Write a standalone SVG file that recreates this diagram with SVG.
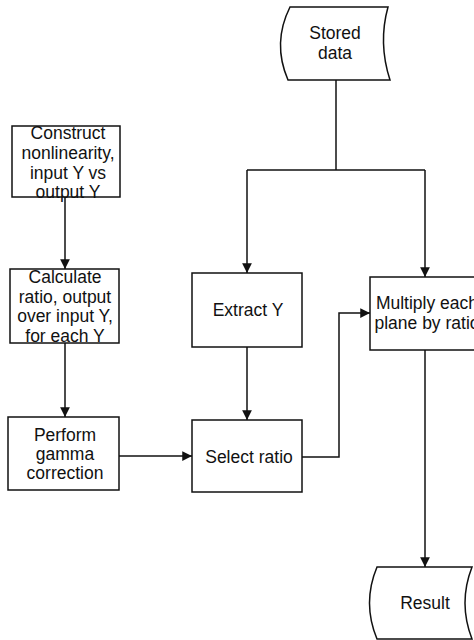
<svg xmlns="http://www.w3.org/2000/svg" width="474" height="640" viewBox="0 0 474 640">
<style>
.box{fill:#fff;stroke:#111;stroke-width:1.5}
.ln{fill:none;stroke:#111;stroke-width:1.5}
text{font-family:"Liberation Sans",Arial,sans-serif;font-size:17.5px;fill:#111;text-anchor:middle;dominant-baseline:central}
</style>
<defs>
<marker id="ah" viewBox="0 0 10 10" refX="10" refY="5" markerWidth="6.5" markerHeight="6.5" orient="auto" markerUnits="strokeWidth">
<path d="M0,0 L10,5 L0,10 Z" fill="#111"/>
</marker>
</defs>
<rect width="474" height="640" fill="#fff"/>
<g id="connectors">
<path class="ln" d="M65,197 L65,269" marker-end="url(#ah)"/>
<path class="ln" d="M65,343 L65,417" marker-end="url(#ah)"/>
<path class="ln" d="M119,456 L192,456" marker-end="url(#ah)"/>
<path class="ln" d="M336,80 L336,170"/>
<path class="ln" d="M247,170 L425,170"/>
<path class="ln" d="M247,170 L247,273" marker-end="url(#ah)"/>
<path class="ln" d="M425,170 L425,277" marker-end="url(#ah)"/>
<path class="ln" d="M247,347 L247,420" marker-end="url(#ah)"/>
<path class="ln" d="M302,457 L339,457 L339,313 L370,313" marker-end="url(#ah)"/>
<path class="ln" d="M425,350 L425,567" marker-end="url(#ah)"/>
</g>
<g id="stored-data">
<path class="box" d="M290,7 L388,7 Q378,43 390,80 L288,80 Q272,43 290,7 Z"/>
<text x="335" y="33">Stored</text>
<text x="335" y="53">data</text>
</g>
<g id="construct">
<rect class="box" x="12" y="126" width="108" height="71"/>
<text x="68" y="133">Construct</text>
<text x="68" y="153">nonlinearity,</text>
<text x="68" y="173">input Y vs</text>
<text x="68" y="192">output Y</text>
</g>
<g id="calculate">
<rect class="box" x="10" y="269" width="109" height="74"/>
<text x="65" y="277">Calculate</text>
<text x="65" y="297">ratio, output</text>
<text x="65" y="316">over input Y,</text>
<text x="65" y="336">for each Y</text>
</g>
<g id="perform">
<rect class="box" x="8" y="417" width="111" height="73"/>
<text x="65" y="435">Perform</text>
<text x="65" y="454">gamma</text>
<text x="65" y="473">correction</text>
</g>
<g id="extract">
<rect class="box" x="192" y="273" width="110" height="74"/>
<text x="248" y="310">Extract Y</text>
</g>
<g id="select">
<rect class="box" x="192" y="420" width="110" height="72"/>
<text x="249" y="457">Select ratio</text>
</g>
<g id="multiply">
<rect class="box" x="370" y="277" width="114" height="73"/>
<text x="427" y="303">Multiply each</text>
<text x="427" y="323">plane by ratio</text>
</g>
<g id="result">
<path class="box" d="M377,567 L472,567 Q458,603 472,639 L377,639 Q362,603 377,567 Z"/>
<text x="425" y="603">Result</text>
</g>
</svg>
